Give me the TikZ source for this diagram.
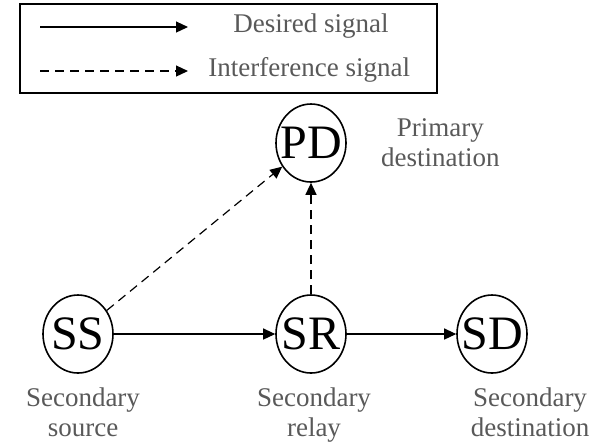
\documentclass[tikz,border=0pt]{standalone}
\usepackage{fontspec}
\setmainfont{Liberation Serif}
\usepackage{tikz}
\usetikzlibrary{shapes.geometric, arrows.meta, positioning}
\tikzstyle{terminal} = [ellipse, draw=black, line width=0.8pt, minimum width=35pt, minimum height=39pt, inner xsep=-3pt, inner ysep=-3pt, font=\fontsize{24}{24}\selectfont]
\tikzstyle{caption} = [text=black!65, align=center, font=\fontsize{13.5}{15}\selectfont, inner sep=0pt]
\tikzstyle{signal} = [line width=0.6pt, -{Triangle[length=6pt, width=5.5pt]}]
\tikzstyle{interf} = [signal, dash pattern=on 4.5pt off 3pt]

\begin{document}
\begin{tikzpicture}[x=0.5pt, y=-0.5pt]
  \useasboundingbox (0,0) rectangle (593,447);
  % legend
  \draw[line width=1pt] (20,4) rectangle (437,93);
  \coordinate (ds0) at (40,27);
  \coordinate (ds1) at (188,27);
  \coordinate (is0) at (40,71);
  \coordinate (is1) at (188,71);
  \node[caption, anchor=west] (dstxt) at (233,26) {Desired signal};
  \node[caption, anchor=west] (istxt) at (208,70) {Interference signal};
  \draw[signal] (ds0) -- (ds1);
  \draw[interf] (is0) -- (is1);

  % nodes
  \node[terminal] (ss) at (78,334) {SS};
  \node[terminal, on grid, right=116.5pt of ss] (sr) {SR};
  \node[terminal, on grid, right=90.5pt of sr] (sd) {SD};
  \node[terminal, on grid, above=95.5pt of sr] (pd) {PD};

  \node[caption, right=17pt of pd] (pdtxt) {Primary\\destination};
  \node[caption, below=7pt of ss, xshift=2.5pt] (sstxt) {Secondary\\source};
  \node[caption, below=7pt of sr, xshift=1.5pt] (srtxt) {Secondary\\relay};
  \node[caption, below=7pt of sd, xshift=19pt] (sdtxt) {Secondary\\destination};

  \draw[signal] (ss) -- (sr);
  \draw[signal] (sr) -- (sd);
  \draw[interf] (sr) -- (pd);
  \draw[interf] (ss) -- (pd);
\end{tikzpicture}
\end{document}
